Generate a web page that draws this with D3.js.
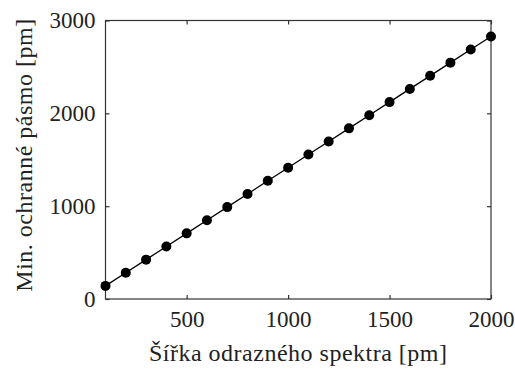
<!DOCTYPE html>
<html>
<head>
<meta charset="utf-8">
<script src="https://cdn.jsdelivr.net/npm/d3@7"></script>
<style>
  html, body { margin: 0; padding: 0; background: #fff; }
  svg text { font-family: "Liberation Serif", "Times New Roman", "DejaVu Serif", serif !important; fill: #222; }
</style>
</head>
<body>
<svg id="chart" width="515" height="369"></svg>
<script>
// Spectral width of the reflection band [pm]
const spectrumWidth = [100, 200, 300, 400, 500, 600, 700, 800, 900, 1000,
                       1100, 1200, 1300, 1400, 1500, 1600, 1700, 1800, 1900, 2000];
// Minimal guard band [pm]
const guardBand = [141, 283, 424, 566, 707, 849, 990, 1131, 1273, 1414,
                   1556, 1697, 1838, 1980, 2121, 2263, 2404, 2546, 2687, 2828];
const xTicks = [500, 1000, 1500, 2000];
const yTicks = [0, 1000, 2000, 3000];
const xTitle = "Šířka odrazného spektra [pm]";
const yTitle = "Min. ochranné pásmo [pm]";

const serif = "'Liberation Serif', 'Times New Roman', 'DejaVu Serif', serif";
const svg = d3.select("#chart");
const box = { left: 105.5, right: 491, top: 20.5, bottom: 299 };

const x = d3.scaleLinear().domain([100, 2000]).range([box.left, box.right]);
const y = d3.scaleLinear().domain([0, 3000]).range([box.bottom, box.top]);

const tickLen = 4;
const fontSize = 23;
const titleSize = 24;

// Frame
svg.append("rect")
  .attr("x", box.left).attr("y", box.top)
  .attr("width", box.right - box.left).attr("height", box.bottom - box.top)
  .attr("fill", "none").attr("stroke", "#333").attr("stroke-width", 1.2);

// Inward ticks on all four sides
const fmt = d3.format("d");
const axes = [
  d3.axisBottom(x).tickValues(xTicks).tickSizeInner(-tickLen).tickSizeOuter(0).tickPadding(12).tickFormat(fmt),
  d3.axisTop(x).tickValues(xTicks).tickSizeInner(-tickLen).tickSizeOuter(0).tickFormat(""),
  d3.axisLeft(y).tickValues(yTicks).tickSizeInner(-tickLen).tickSizeOuter(0).tickPadding(10).tickFormat(fmt),
  d3.axisRight(y).tickValues(yTicks).tickSizeInner(-tickLen).tickSizeOuter(0).tickFormat("")
];
const shifts = [
  `translate(0,${box.bottom})`, `translate(0,${box.top})`,
  `translate(${box.left},0)`, `translate(${box.right},0)`
];
axes.forEach((ax, i) => {
  const g = svg.append("g").attr("transform", shifts[i]).call(ax)
    .attr("font-family", serif).attr("font-size", fontSize);
  g.select(".domain").remove();
  g.selectAll(".tick line").attr("stroke", "#333").attr("stroke-width", 1.2);
  g.selectAll(".tick text").attr("fill", "#222");
});

// Data line and markers
const line = d3.line().x((d, i) => x(spectrumWidth[i])).y(d => y(d));
svg.append("path")
  .datum(guardBand)
  .attr("d", line)
  .attr("fill", "none").attr("stroke", "#000").attr("stroke-width", 1.3);

svg.selectAll("circle.pt")
  .data(guardBand)
  .join("circle")
  .attr("class", "pt")
  .attr("cx", (d, i) => x(spectrumWidth[i]))
  .attr("cy", d => y(d))
  .attr("r", 5)
  .attr("fill", "#000");

// Axis titles
svg.append("text")
  .attr("x", (box.left + box.right) / 2).attr("y", 361)
  .attr("text-anchor", "middle").attr("font-size", titleSize).attr("font-family", serif)
  .attr("letter-spacing", 0.5)
  .text(xTitle);

svg.append("text")
  .attr("transform", `translate(32,155) rotate(-90)`)
  .attr("text-anchor", "middle").attr("font-size", titleSize).attr("font-family", serif)
  .attr("letter-spacing", 0.5)
  .text(yTitle);
</script>
</body>
</html>
